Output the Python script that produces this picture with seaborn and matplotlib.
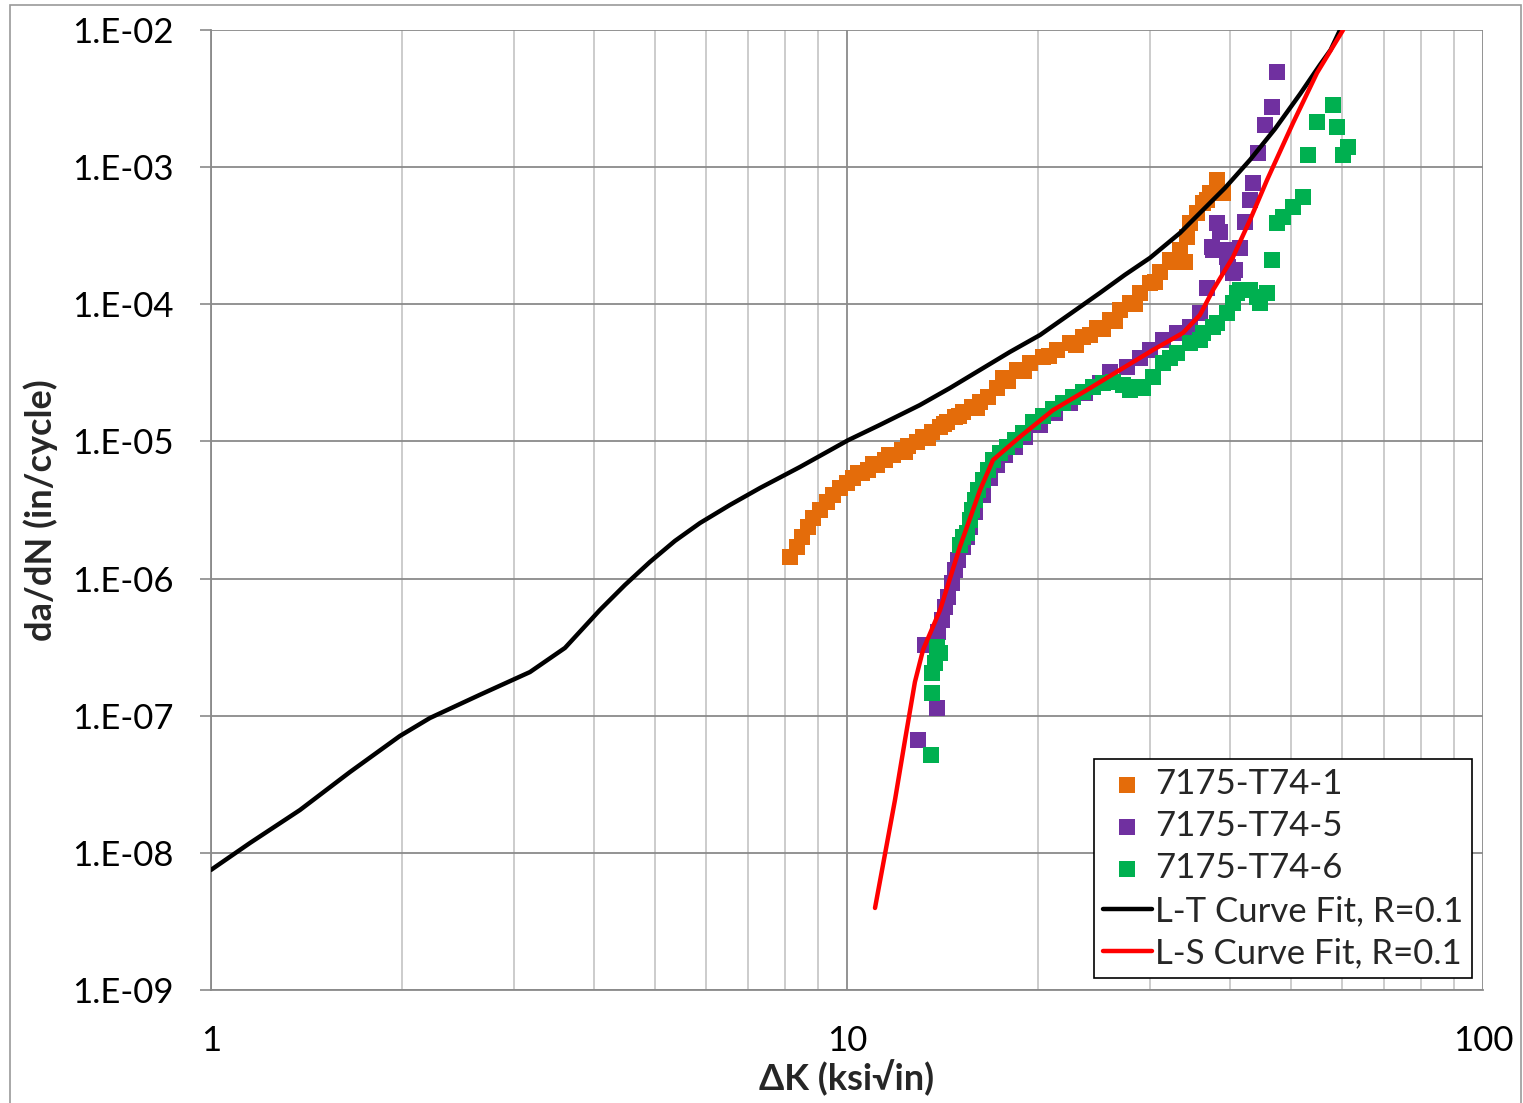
import numpy as np
import pandas as pd
import seaborn as sns
import matplotlib
matplotlib.use("Agg")
import matplotlib.pyplot as plt
from matplotlib.ticker import LogLocator, NullLocator, FixedLocator, FixedFormatter, NullFormatter
from matplotlib.patches import Rectangle

# ---------------- data ----------------
dk_t74_1 = [8.14, 8.35, 8.50, 8.68, 8.84, 9.07, 9.30, 9.51, 9.75, 10.0, 10.22, 10.56, 10.79,
            11.15, 11.47, 11.81, 12.20, 12.47, 12.89, 13.17, 13.61, 14.01, 14.37, 14.78, 15.22,
            15.72, 16.19, 16.66, 17.21, 17.59, 18.51, 19.40, 20.33, 21.39, 22.42, 23.50, 24.72,
            25.92, 26.87, 27.86, 28.88, 29.96, 31.06, 32.21, 33.39, 34.0, 34.25, 34.62, 35.51,
            36.29, 36.81, 37.22, 38.18, 39.01,
            10.40, 11.00, 11.65, 12.35, 13.40, 14.20, 15.00, 16.00, 17.90, 19.00, 20.80, 22.90,
            24.10, 25.30, 26.40, 28.40, 30.50, 32.80]
dadn_t74_1 = [1.44e-6, 1.70e-6, 2.01e-6, 2.38e-6, 2.77e-6, 3.16e-6, 3.61e-6, 4.07e-6, 4.57e-6,
              4.98e-6, 5.41e-6, 5.89e-6, 6.19e-6, 6.73e-6, 7.32e-6, 7.96e-6, 8.65e-6, 9.27e-6,
              9.91e-6, 1.08e-5, 1.17e-5, 1.27e-5, 1.39e-5, 1.51e-5, 1.64e-5, 1.78e-5, 1.94e-5,
              2.11e-5, 2.45e-5, 2.90e-5, 3.32e-5, 3.73e-5, 4.13e-5, 4.64e-5, 5.22e-5, 5.77e-5,
              6.71e-5, 7.68e-5, 9.08e-5, 1.02e-4, 1.21e-4, 1.43e-4, 1.72e-4, 2.10e-4, 2.49e-4,
              2.03e-4, 3.10e-4, 3.92e-4, 4.63e-4, 5.47e-4, 5.75e-4, 6.48e-4, 8.05e-4, 6.48e-4,
              5.90e-6, 6.90e-6, 7.90e-6, 8.40e-6, 1.05e-5, 1.34e-5, 1.53e-5, 1.75e-5, 2.75e-5,
              3.25e-5, 4.20e-5, 5.05e-5, 6.00e-5, 6.60e-5, 7.60e-5, 1.00e-4, 1.45e-4, 2.05e-4]

dk_t74_5 = [12.93, 13.27, 13.85, 13.90, 14.11, 14.26, 14.42, 14.63, 14.78, 14.95, 15.22, 15.44,
            15.61, 15.90, 16.36, 16.78, 17.21, 17.72, 18.37, 19.05, 20.12, 21.23, 22.42, 23.67,
            24.99, 25.92, 27.56, 28.88, 29.96, 31.40, 33.03, 34.62, 35.89, 36.81, 37.63, 37.49,
            38.18, 38.60, 39.59, 39.59, 39.73, 40.46, 40.75, 41.50, 42.26, 43.03, 43.50, 44.29,
            45.43, 46.60, 47.45]
dadn_t74_5 = [6.65e-8, 3.28e-7, 1.14e-7, 4.07e-7, 4.99e-7, 6.21e-7, 7.34e-7, 9.28e-7, 1.15e-6,
              1.37e-6, 1.70e-6, 2.01e-6, 2.38e-6, 3.06e-6, 4.07e-6, 5.41e-6, 6.73e-6, 7.96e-6,
              9.10e-6, 1.08e-5, 1.32e-5, 1.61e-5, 1.91e-5, 2.25e-5, 2.67e-5, 3.21e-5, 3.49e-5,
              4.06e-5, 4.64e-5, 5.49e-5, 6.18e-5, 6.83e-5, 8.63e-5, 1.31e-4, 2.49e-4, 2.62e-4,
              3.92e-4, 3.37e-4, 2.49e-4, 2.21e-4, 1.87e-4, 1.69e-4, 1.78e-4, 2.57e-4, 3.98e-4,
              5.75e-4, 7.66e-4, 1.27e-3, 2.03e-3, 2.74e-3, 4.94e-3]

dk_t74_6 = [13.56, 13.61, 13.61, 13.76, 14.01, 13.85, 15.05, 15.22, 15.44, 15.61, 15.72, 15.90,
            16.07, 16.36, 16.66, 16.97, 17.40, 17.85, 18.37, 18.91, 19.61, 20.33, 21.08, 21.86,
            22.66, 23.50, 24.37, 25.26, 26.20, 27.16, 27.86, 28.58, 29.20, 30.28, 31.40, 32.21,
            33.03, 34.62, 35.89, 36.29, 37.63, 38.18, 39.59, 40.46, 41.05, 41.50, 43.03, 44.13,
            44.61, 45.76, 46.60, 47.45, 48.49, 50.28, 52.12, 53.07, 54.83, 58.10, 58.96, 60.26,
            61.36]
dadn_t74_6 = [5.16e-8, 1.46e-7, 2.05e-7, 2.42e-7, 2.86e-7, 3.17e-7, 1.76e-6, 2.01e-6, 2.15e-6,
              2.67e-6, 3.16e-6, 3.74e-6, 4.42e-6, 5.24e-6, 6.19e-6, 7.32e-6, 8.24e-6, 9.10e-6,
              1.02e-5, 1.15e-5, 1.39e-5, 1.53e-5, 1.72e-5, 1.91e-5, 2.11e-5, 2.29e-5, 2.49e-5,
              2.67e-5, 2.71e-5, 2.58e-5, 2.37e-5, 2.49e-5, 2.45e-5, 2.95e-5, 3.73e-5, 4.06e-5,
              4.42e-5, 5.22e-5, 5.49e-5, 6.18e-5, 6.83e-5, 7.30e-5, 8.63e-5, 1.02e-4, 1.21e-4,
              1.27e-4, 1.27e-4, 1.13e-4, 1.02e-4, 1.21e-4, 2.10e-4, 3.92e-4, 4.33e-4, 5.12e-4,
              6.05e-4, 1.23e-3, 2.13e-3, 2.84e-3, 1.96e-3, 1.23e-3, 1.40e-3]

dk_lt_fit = [1.0, 1.152, 1.380, 1.654, 1.982, 2.210, 2.648, 3.174, 3.603, 4.089, 4.476, 4.899,
             5.364, 5.874, 6.547, 7.298, 8.437, 10.04, 11.27, 13.02, 14.52, 16.19, 18.04, 20.12,
             22.42, 24.99, 27.36, 29.96, 33.39, 35.89, 39.30, 43.03, 47.10, 51.57, 55.41, 57.6,
             59.6]
dadn_lt_fit = [7.50e-9, 1.18e-8, 2.05e-8, 3.88e-8, 7.11e-8, 9.62e-8, 1.42e-7, 2.08e-7, 3.12e-7,
               5.90e-7, 8.97e-7, 1.32e-6, 1.88e-6, 2.54e-6, 3.44e-6, 4.57e-6, 6.51e-6, 1.02e-5,
               1.32e-5, 1.84e-5, 2.45e-5, 3.32e-5, 4.49e-5, 5.97e-5, 8.49e-5, 1.21e-4, 1.64e-4,
               2.18e-4, 3.31e-4, 4.63e-4, 7.05e-4, 1.13e-3, 1.90e-3, 3.41e-3, 5.56e-3, 7.15e-3,
               1.0e-2]

dk_ls_fit = [11.07, 11.47, 11.90, 12.34, 12.79, 13.17, 14.01, 15.05, 16.19, 16.97, 18.71, 21.08,
             23.84, 26.87, 30.28, 33.75, 35.89, 37.63, 40.46, 43.03, 45.76, 50.28, 54.83, 60.26]
dadn_ls_fit = [3.96e-9, 9.64e-9, 2.43e-8, 6.65e-8, 1.76e-7, 3.01e-7, 5.90e-7, 1.70e-6, 4.42e-6,
               7.32e-6, 1.08e-5, 1.69e-5, 2.37e-5, 3.32e-5, 4.64e-5, 6.18e-5, 8.35e-5, 1.27e-4,
               2.21e-4, 4.12e-4, 8.05e-4, 2.10e-3, 4.86e-3, 1.0e-2]

series_labels = ["7175-T74-1", "7175-T74-5", "7175-T74-6",
                 "L-T Curve Fit, R=0.1", "L-S Curve Fit, R=0.1"]
series_colors = ["#E46C0A", "#7030A0", "#00B050", "#000000", "#FF0000"]

y_ticks = [1e-9, 1e-8, 1e-7, 1e-6, 1e-5, 1e-4, 1e-3, 1e-2]
y_tick_labels = ["1.E-09", "1.E-08", "1.E-07", "1.E-06", "1.E-05", "1.E-04", "1.E-03", "1.E-02"]
x_ticks = [1, 10, 100]
x_tick_labels = ["1", "10", "100"]

# ---------------- figure ----------------
sns.set_style("white")
plt.rcParams["font.family"] = ["Lato", "DejaVu Sans"]

fig = plt.figure(figsize=(15.23, 11.03), dpi=100)
ax = fig.add_axes([0.1385, 0.1025, 0.8352, 0.8703])
ax.set_xscale("log")
ax.set_yscale("log")

scatter_sets = [(dk_t74_1, dadn_t74_1), (dk_t74_5, dadn_t74_5), (dk_t74_6, dadn_t74_6)]
for i, (xs, ys) in enumerate(scatter_sets):
    d = pd.DataFrame({"dK": xs, "dadN": ys})
    sns.scatterplot(data=d, x="dK", y="dadN", marker="s", s=135, linewidth=0,
                    color=series_colors[i], label=series_labels[i], ax=ax, zorder=3)

line_sets = [(dk_lt_fit, dadn_lt_fit), (dk_ls_fit, dadn_ls_fit)]
for j, (xs, ys) in enumerate(line_sets):
    d = pd.DataFrame({"dK": xs, "dadN": ys})
    sns.lineplot(data=d, x="dK", y="dadN", sort=False, estimator=None,
                 color=series_colors[3 + j], linewidth=3.2, label=series_labels[3 + j],
                 ax=ax, zorder=4)

ax.set_xlim(1, 100)
ax.set_ylim(1e-9, 1e-2)

# ticks / grid
ax.xaxis.set_major_locator(FixedLocator(x_ticks))
ax.xaxis.set_major_formatter(FixedFormatter(x_tick_labels))
ax.xaxis.set_minor_locator(LogLocator(base=10, subs=np.arange(2, 10), numticks=20))
ax.xaxis.set_minor_formatter(NullFormatter())
ax.yaxis.set_major_locator(FixedLocator(y_ticks))
ax.yaxis.set_major_formatter(FixedFormatter(y_tick_labels))
ax.yaxis.set_minor_locator(NullLocator())

ax.grid(True, which="major", axis="both", color="#8a8a8a", linewidth=1.3, zorder=0)
ax.grid(True, which="minor", axis="x", color="#c8c8c8", linewidth=1.3, zorder=0)
ax.set_axisbelow(True)

ax.tick_params(axis="y", which="major", direction="out", length=8, width=1.2,
               color="#8a8a8a", pad=19, labelsize=25, labelcolor="black", left=True)
ax.tick_params(axis="x", which="major", length=0, pad=25, labelsize=25, labelcolor="black")
ax.tick_params(axis="x", which="minor", length=0)

for side in ["top", "right"]:
    ax.spines[side].set_visible(False)
for side in ["left", "bottom"]:
    ax.spines[side].set_color("#8a8a8a")
    ax.spines[side].set_linewidth(1.3)

ax.set_xlabel("\u0394K (ksi\u221ain)", fontsize=26, fontweight="bold", labelpad=2)
ax.set_ylabel("da/dN (in/cycle)", fontsize=26, fontweight="bold", labelpad=10)

handles, labels = ax.get_legend_handles_labels()
leg = ax.legend(handles, labels, loc="upper right", bbox_to_anchor=(0.9914, 0.2406),
                borderaxespad=0, frameon=True, fancybox=False, shadow=False,
                fontsize=25, handlelength=1.4, handletextpad=0.1, labelspacing=0.3,
                borderpad=0.25)
leg.get_frame().set_edgecolor("black")
leg.get_frame().set_linewidth(1.2)
leg.get_frame().set_alpha(1)

fig.patches.append(Rectangle((10 / 1523, -0.01), (1521 - 10) / 1523, 1.01 - 5 / 1103,
                             transform=fig.transFigure, fill=False, edgecolor="#9a9a9a",
                             linewidth=1.2))

fig.savefig("out.png", dpi=100)
